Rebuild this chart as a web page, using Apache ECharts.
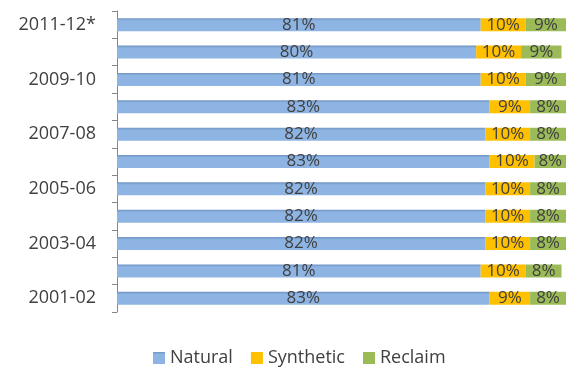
<!DOCTYPE html>
<html>
<head>
<meta charset="UTF-8"/>
<script src="https://cdn.jsdelivr.net/npm/echarts@6/dist/echarts.min.js"></script>
<style>
  html, body { margin: 0; padding: 0; background: #fff; }
  #main { width: 566px; height: 369px; }
</style>
</head>
<body>
<div id="main"></div>
<script type="text/javascript">
    // years, bottom to top
    var years = ['2001-02', '2002-03', '2003-04', '2004-05', '2005-06', '2006-07',
        '2007-08', '2008-09', '2009-10', '2010-11', '2011-12*'];
    var natural = [83, 81, 82, 82, 82, 83, 82, 83, 81, 80, 81];
    var synthetic = [9, 10, 10, 10, 10, 10, 10, 9, 10, 10, 10];
    var reclaim = [8, 8, 8, 8, 8, 8, 8, 8, 9, 9, 9];

    var font = '"Open Sans", "Liberation Sans", sans-serif';
    var lbl = {
        show: true,
        position: 'inside',
        formatter: '{c}%',
        color: '#404040',
        fontSize: 17,
        fontFamily: font
    };

    function bar(name, data, color) {
        return {
            name: name,
            type: 'bar',
            stack: 'all',
            barWidth: 13,
            data: data,
            label: lbl,
            itemStyle: {color: color}
        };
    }

    var myChart = echarts.init(document.getElementById('main'));
    var option = {
        animation: false,
        grid: {left: 117, right: 0, top: 11, bottom: 57},
        legend: {
            top: 344,
            left: 148,
            itemWidth: 12,
            itemHeight: 12,
            itemGap: 18,
            icon: 'rect',
            textStyle: {color: '#404040', fontSize: 18, fontFamily: font},
            data: ['Natural', 'Synthetic', 'Reclaim']
        },
        xAxis: {
            type: 'value',
            min: 0,
            max: 100,
            show: false
        },
        yAxis: {
            type: 'category',
            data: years,
            axisLine: {lineStyle: {color: '#868686'}},
            axisTick: {show: true, interval: 0, length: 5, lineStyle: {color: '#868686'}},
            axisLabel: {interval: 1, color: '#404040', fontSize: 18, fontFamily: font, margin: 21},
            splitLine: {show: false}
        },
        series: [
            bar('Natural', natural, new echarts.graphic.LinearGradient(0, 0, 0, 1, [
                {offset: 0, color: '#6f93c2'},
                {offset: 0.2, color: '#8db4e2'},
                {offset: 1, color: '#8db4e2'}
            ])),
            bar('Synthetic', synthetic, '#ffc000'),
            bar('Reclaim', reclaim, '#9bbb59')
        ]
    };
    myChart.setOption(option);
</script>
</body>
</html>
